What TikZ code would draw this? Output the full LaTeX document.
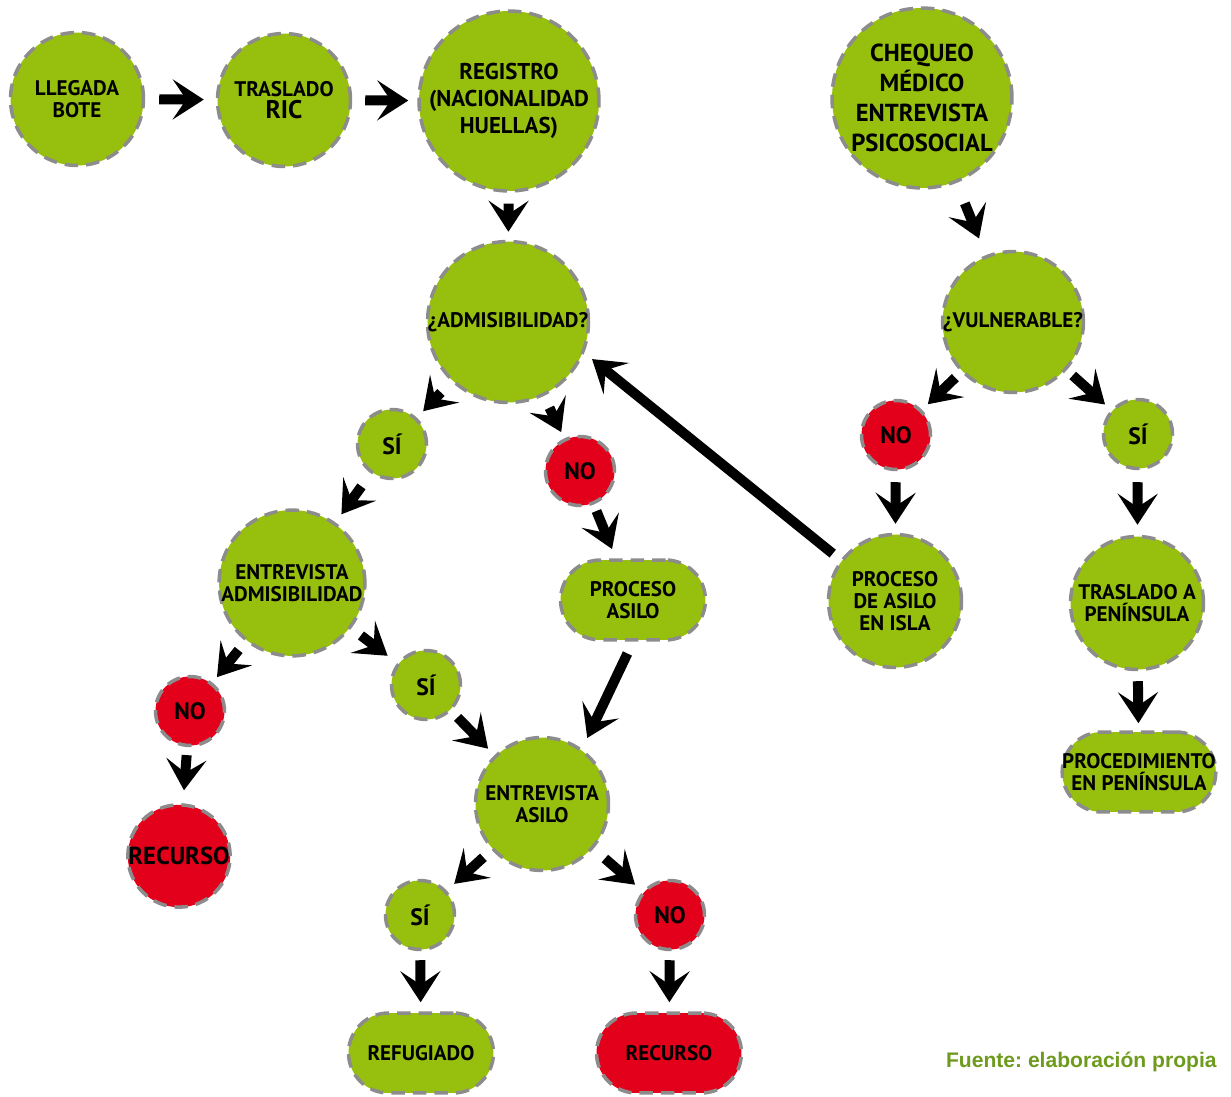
\documentclass[tikz,border=0pt]{standalone}
\usepackage{fontspec}
\setmainfont{PT Sans}
\newfontfamily\fuentefont{Liberation Sans}
\usepackage{tikz}
\usetikzlibrary{positioning,calc,arrows.meta}
\definecolor{verde}{RGB}{151,191,13}
\definecolor{rojo}{RGB}{226,0,26}
\definecolor{gris}{RGB}{140,140,140}
\definecolor{oliva}{RGB}{110,155,30}
\frenchspacing

\begin{document}
\begin{tikzpicture}[x=0.02cm,y=-0.02cm,
  nodo/.style={circle,fill=verde,draw=gris,line width=0.07cm,dash pattern=on 0.27cm off 0.16cm,
    inner sep=0pt,align=center,font=\bfseries\fontsize{12}{12.4}\selectfont},
  grande/.style={nodo,minimum size=3.6cm},
  media/.style={nodo,minimum size=2.66cm},
  peque/.style={nodo,minimum size=1.38cm,font=\bfseries\fontsize{13.5}{14}\selectfont},
  caja/.style={nodo,rectangle,rounded corners=0.8cm,minimum width=2.9cm,minimum height=1.6cm},
  negativo/.style={fill=rojo},
  flecha/.style={line width=0.2cm,-{Stealth[length=0.62cm,width=0.8cm,inset=0.27cm]}},
  sh/.style 2 args={shorten <=#1*0.02cm,shorten >=#2*0.02cm}]
\useasboundingbox (0,0) rectangle (1231,1097);

% fila de arriba
\node[media] (bote) at (77,99) {LLEGADA\\BOTE};
\node[media] (ric) at (284,100) {TRASLADO\\{\fontsize{14.5}{15}\selectfont RIC}};
\node[grande,font=\bfseries\fontsize{13}{15.3}\selectfont] (registro) at (509,101) {REGISTRO\\(NACIONALIDAD\\HUELLAS)};
\node[grande,font=\bfseries\fontsize{14}{17}\selectfont] (chequeo) at (922,98) {CHEQUEO\\MÉDICO\\ENTREVISTA\\PSICOSOCIAL};

% admisibilidad
\node[media] (admis) at (508,322) {¿ADMISIBILIDAD?};
\node[peque] (si1) at (392,444) {SÍ};
\node[peque,negativo] (no1) at (580,471) {NO};
\node[caja] (pasilo) at (633,600) {PROCESO\\ASILO};
\node[media] (eadmis) at (292,583) {ENTREVISTA\\ADMISIBILIDAD};
\node[peque,negativo] (no2) at (190,711) {NO};
\node[peque] (si2) at (426,685) {SÍ};
\node[nodo,negativo,minimum size=1.74cm,font=\bfseries\fontsize{14}{15}\selectfont] (recurso1) at (179,856) {RECURSO};
\node[media] (easilo) at (542,804) {ENTREVISTA\\ASILO};
\node[peque] (si3) at (420,915) {SÍ};
\node[peque,negativo] (no3) at (670,915) {NO};
\node[caja] (refugiado) at (421,1053) {REFUGIADO};
\node[caja,negativo] (recurso2) at (669,1053) {RECURSO};

% vulnerabilidad
\node[media] (vuln) at (1013,322) {¿VULNERABLE?};
\node[peque,negativo] (vno) at (896,435) {NO};
\node[peque] (vsi) at (1138,434) {SÍ};
\node[media] (isla) at (895,601) {PROCESO\\DE ASILO\\EN ISLA};
\node[media] (tpen) at (1137,603) {TRASLADO A\\PENÍNSULA};
\node[caja] (proc) at (1139,772) {PROCEDIMIENTO\\EN PENÍNSULA};

\node[anchor=east,inner sep=0pt,text=oliva,font=\fuentefont\bfseries\fontsize{12}{14}\selectfont] (fuente) at (1217,1062) {Fuente: elaboración propia};

\draw[flecha,sh={14}{12}] (bote) -- (ric);
\draw[flecha,sh={13}{9}] (ric) -- (registro);
\draw[flecha,sh={11}{8}] (registro) -- (admis);
\draw[flecha,sh={22}{18}] (chequeo) -- (vuln);
\draw[flecha,sh={15}{9}] (admis) -- (si1);
\draw[flecha,sh={13}{7}] (admis) -- (no1);
\draw[flecha,sh={8}{8}] (vuln) -- (vno);
\draw[flecha,sh={8}{8}] (vuln) -- (vsi);
\draw[flecha,sh={7}{10}] (no1) -- (pasilo);
\draw[flecha,sh={16}{10}] (si1) -- (eadmis);
\draw[flecha,sh={11}{9}] (vno) -- (isla);
\draw[flecha,sh={12}{10}] (vsi) -- (tpen);
\draw[flecha,sh={10}{7}] (tpen) -- (proc);
\draw[flecha,sh={10}{10}] (isla.143) -- (admis.-22);
\draw[flecha,sh={11}{7}] (eadmis) -- (no2);
\draw[flecha,sh={12}{12}] (eadmis) -- (si2);
\draw[flecha,sh={8}{13}] (no2) -- (recurso1);
\draw[flecha,sh={9}{9}] (si2) -- (easilo);
\draw[flecha,sh={13}{12}] (pasilo.south) -- (easilo.54);
\draw[flecha,sh={11}{10}] (easilo) -- (si3);
\draw[flecha,sh={15}{10}] (easilo) -- (no3);
\draw[flecha,sh={9}{9}] (si3) -- (refugiado);
\draw[flecha,sh={9}{9}] (no3) -- (recurso2);
\end{tikzpicture}
\end{document}
